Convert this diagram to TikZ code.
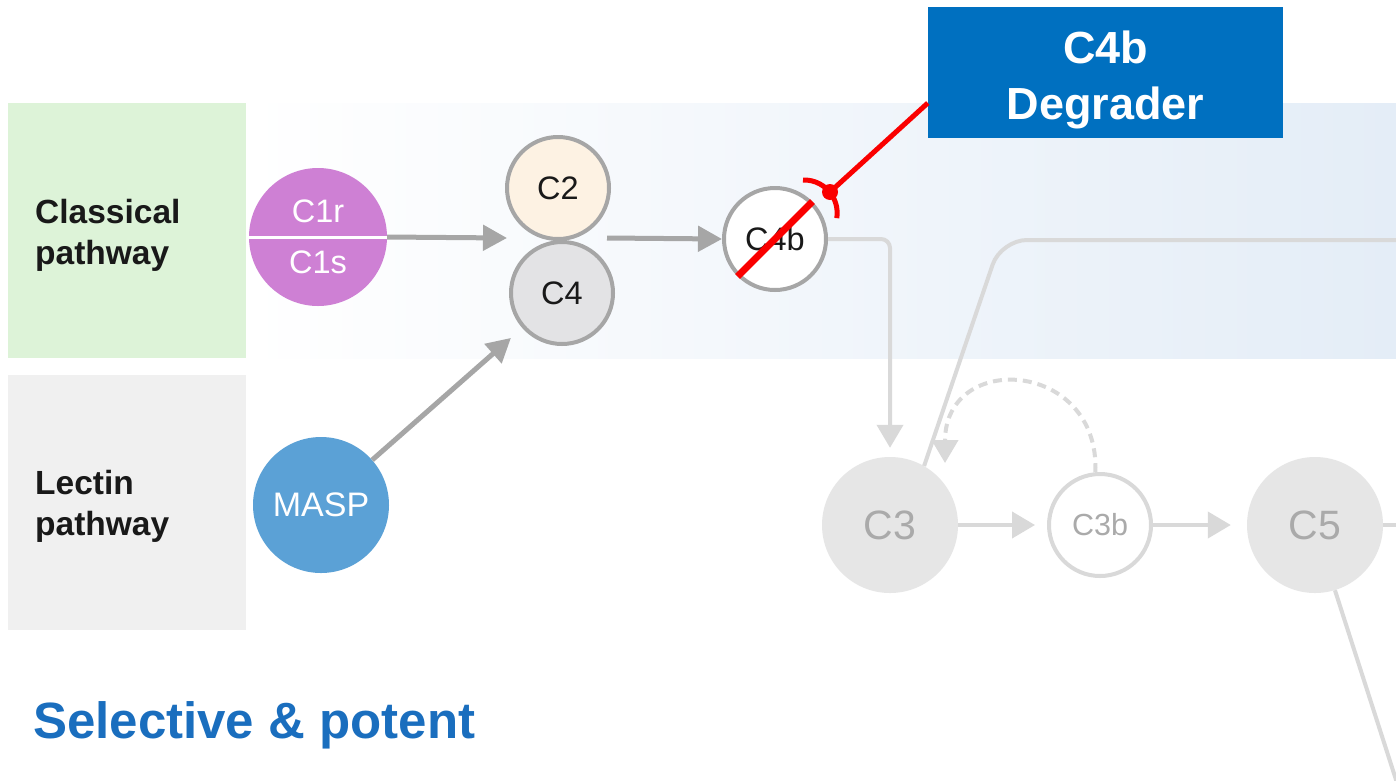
\documentclass[tikz,border=0pt]{standalone}
\usepackage{fontspec}
\setmainfont{Liberation Sans}
\usetikzlibrary{arrows.meta,calc}
\definecolor{greenbox}{RGB}{221,243,216}
\definecolor{graybox}{RGB}{240,240,240}
\definecolor{bandblue}{RGB}{228,237,247}
\definecolor{agray}{RGB}{166,166,166}
\definecolor{lgray}{RGB}{217,217,217}
\definecolor{lfill}{RGB}{230,230,230}
\definecolor{ltext}{RGB}{170,170,170}
\definecolor{cone}{RGB}{206,128,212}
\definecolor{ctwo}{RGB}{253,242,227}
\definecolor{cfour}{RGB}{227,227,229}
\definecolor{maspblue}{RGB}{91,161,214}
\definecolor{degblue}{RGB}{0,112,192}
\definecolor{titleblue}{RGB}{26,110,190}
\definecolor{inhred}{RGB}{250,0,0}
\definecolor{darktext}{RGB}{25,25,25}
\begin{document}
\begin{tikzpicture}[x=1pt,y=-1pt,
  darr/.style={draw=agray, line width=5pt, -{Triangle[length=24pt,width=25pt]}},
  larr/.style={draw=lgray, line width=4pt, -{Triangle[length=23pt,width=26pt]}},
  lline/.style={draw=lgray, line width=4pt},
  pathlbl/.style={anchor=west, align=left, inner sep=0, text=darktext,
    font=\bfseries\fontsize{33.5}{41}\selectfont},
  darkcirc/.style={circle, draw=agray, line width=4pt, inner sep=0,
    minimum size=102pt, text=darktext, font=\fontsize{32.5}{36}\selectfont},
  bigfaint/.style={circle, fill=lfill, inner sep=0, minimum size=136pt,
    text=ltext, font=\fontsize{41}{48}\selectfont},
  whitelbl/.style={inner sep=0, text=white, font=\fontsize{32.5}{36}\selectfont}]
\useasboundingbox (0,0) rectangle (1396,780);
\fill[white] (0,0) rectangle (1396,780);
% background band
\shade[left color=white, right color=bandblue] (246,103) rectangle (1396,358);
% pathway boxes
\node[fill=greenbox, minimum width=238pt, minimum height=255pt, inner sep=0, anchor=north west] (gbox) at (8,103) {};
\node[fill=graybox, minimum width=238pt, minimum height=255pt, inner sep=0, anchor=north west] (ybox) at (8,375) {};
\node[pathlbl] (classical) at (35,235) {Classical\\pathway};
\node[pathlbl] (lectin) at (35,506) {Lectin\\pathway};
% title
\node[anchor=base west, inner sep=0, text=titleblue, font=\bfseries\fontsize{51}{60}\selectfont] (title) at (33,738) {Selective \& potent};
% C1 circle
\node[circle, fill=cone, inner sep=0, minimum size=138pt] (C1) at (318,237) {};
\draw[white, line width=3pt] (C1.west) -- (C1.east);
\node[whitelbl] (C1r) at (318,211) {C1r};
\node[whitelbl] (C1s) at (318,262) {C1s};
% MASP
\node[circle, fill=maspblue, inner sep=0, minimum size=136pt, text=white, font=\fontsize{34}{38}\selectfont] (MASP) at (321,505) {MASP};
% C2, C4, C4b
\node[darkcirc, fill=ctwo] (C2) at (558,188) {C2};
\node[darkcirc, fill=cfour] (C4) at (562,293) {C4};
\node[darkcirc, fill=white] (C4b) at (775,239) {C4b};
\coordinate (c24w) at (507,238);
\coordinate (c24e) at (607,238);
% faint cascade
\node[bigfaint] (C3) at (890,525) {C3};
\node[circle, draw=lgray, line width=4pt, fill=white, inner sep=0, minimum size=102pt,
  text=ltext, font=\fontsize{30.5}{36}\selectfont] (C3b) at (1100,525) {C3b};
\node[bigfaint] (C5) at (1315,525) {C5};
\coordinate (k1) at (1001,240);
\coordinate (outR) at (1398,240);
\coordinate (c3tip) at (945,463);
\coordinate (c5r) at (1398,525);
\coordinate (c5b) at (1398,786);
% dark connectors
\draw[darr] (C1.east) -- (c24w);
\draw[darr] (c24e) -- (C4b.west);
\draw[darr, shorten >=15pt] (MASP) -- (C4);
% faint connectors
\draw[larr, rounded corners=9pt, shorten >=9pt] (C4b.east) -| (C3.north);
\draw[lline, rounded corners=26pt] (C3.60) -- (k1) -- (outR);
\draw[larr, dash pattern=on 9pt off 6pt] (C3b.95) .. controls (1100,360) and (945,350) .. (c3tip);
\draw[larr, shorten >=12pt] (C3.east) -- (C3b.west);
\draw[larr, shorten >=16pt] (C3b.east) -- (C5.west);
\draw[lline] (C5.east) -- (c5r);
\draw[lline] (C5.-73) -- (c5b);
% red inhibition
\draw[inhred, line width=7pt] (C4b.225) -- (C4b.45);
\coordinate (dot) at (830,192);
\node[fill=degblue, minimum width=355pt, minimum height=131pt, inner sep=0] (deg) at (1105.5,72.5) {};
\node[inner sep=0, text=white, align=center, font=\bfseries\fontsize{45}{56}\selectfont] (degtxt) at (1105.5,80) {C4b\\Degrader};
\draw[inhred, line width=5pt] (dot) -- ([yshift=-30.5pt]deg.west);
\fill[inhred] (dot) circle (8);
\draw[inhred, line width=5pt] (803,180) arc[start angle=-92, end angle=9, radius=33];
\end{tikzpicture}
\end{document}
